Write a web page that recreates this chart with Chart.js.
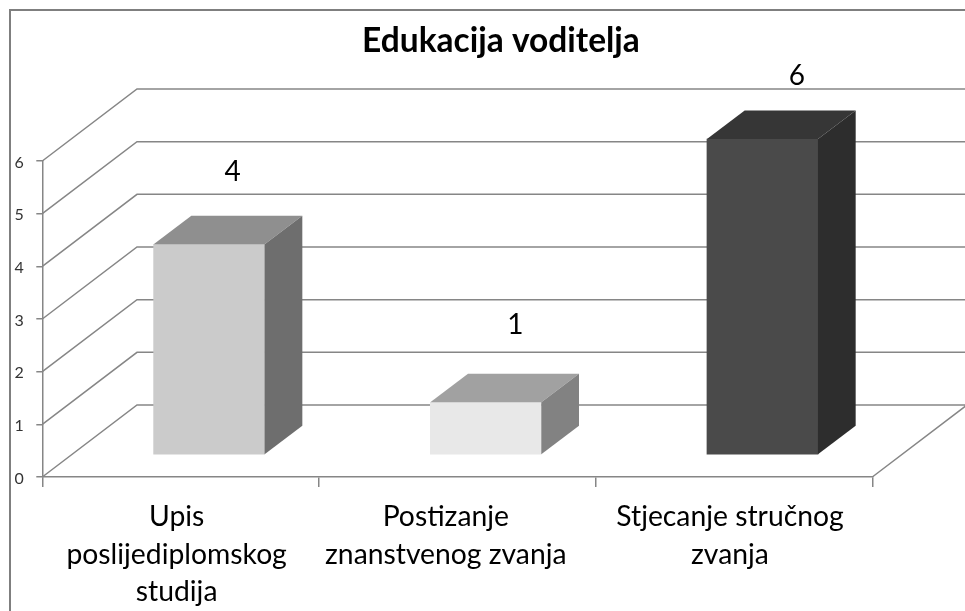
<!DOCTYPE html>
<html>
<head>
<meta charset="utf-8">
<style>html,body{margin:0;padding:0;background:#fff}canvas{display:block}</style>
<script src="https://cdn.jsdelivr.net/npm/chart.js@4"></script>
</head>
<body>
<canvas id="c" width="965" height="611"></canvas>
<script>
const chartTitle = "Edukacija voditelja";
const categories = [["Upis","poslijediplomskog","studija"],["Postizanje","znanstvenog zvanja"],["Stjecanje stručnog","zvanja"]];
const values = [4, 1, 6];
const frontColors = ["#cbcbcb", "#e8e8e8", "#4a4a4a"];
const topColors = ["#8f8f8f", "#a1a1a1", "#363636"];
const sideColors = ["#6e6e6e", "#828282", "#2d2d2d"];
const yTickValues = [0, 1, 2, 3, 4, 5, 6];
const axisColor = "#868686";
const FONT = "Lato, 'Open Sans', sans-serif";
const wall = {dx: 94.7, dy: -72};
const barDepth = {dx: 37.7, dy: -28.6};
const barShift = {dx: 28.5, dy: -22};
const xLabelShift = [-4, -11.5, -4];
const valueLabelShift = [[23.5, -72], [29.5, -77], [34.5, -63]];
const titleCenterX = 501;

const threeD = {
  id: "threeD",
  afterLayout(chart) {
    const tb = chart.titleBlock;
    tb.left = 2 * titleCenterX - tb.right;
  },
  beforeDraw(chart) {
    const ctx = chart.ctx, ca = chart.chartArea, ys = chart.scales.y;
    ctx.save();
    // outer frame
    ctx.strokeStyle = "#7f7f7f"; ctx.lineWidth = 2;
    ctx.beginPath(); ctx.moveTo(10, 611); ctx.lineTo(10, 10); ctx.lineTo(965, 10); ctx.stroke();
    // walls
    ctx.strokeStyle = axisColor; ctx.lineWidth = 1.5;
    ctx.beginPath();
    yTickValues.forEach(v => {
      const y = ys.getPixelForValue(v);
      ctx.moveTo(ca.left, y);
      ctx.lineTo(ca.left + wall.dx, y + wall.dy);
      ctx.lineTo(ca.right + wall.dx, y + wall.dy);
    });
    ctx.moveTo(ca.right, ca.bottom);
    ctx.lineTo(ca.right + wall.dx, ca.bottom + wall.dy);
    ctx.stroke();
    ctx.restore();
    // per-category horizontal label placement
    const items = chart.scales.x.getLabelItems();
    if (!items._shifted) {
      items.forEach((it, i) => { it.options.translation[0] += xLabelShift[i]; });
      items._shifted = true;
    }
  },
  beforeDatasetsDraw(chart) {
    chart.ctx.save();
    chart.ctx.translate(barShift.dx, barShift.dy);
  },
  afterDatasetsDraw(chart) {
    const ctx = chart.ctx, meta = chart.getDatasetMeta(0);
    meta.data.forEach((el, i) => {
      const l = el.x - el.width / 2, r = el.x + el.width / 2, t = el.y, b = el.base;
      ctx.fillStyle = topColors[i];
      ctx.beginPath();
      ctx.moveTo(l, t); ctx.lineTo(l + barDepth.dx, t + barDepth.dy);
      ctx.lineTo(r + barDepth.dx, t + barDepth.dy); ctx.lineTo(r, t);
      ctx.closePath(); ctx.fill();
      ctx.fillStyle = sideColors[i];
      ctx.beginPath();
      ctx.moveTo(r, t); ctx.lineTo(r + barDepth.dx, t + barDepth.dy);
      ctx.lineTo(r + barDepth.dx, b + barDepth.dy); ctx.lineTo(r, b);
      ctx.closePath(); ctx.fill();
    });
    ctx.restore();
    ctx.save();
    ctx.fillStyle = "#000";
    ctx.font = "28px " + FONT;
    ctx.textAlign = "center"; ctx.textBaseline = "middle";
    meta.data.forEach((el, i) => {
      ctx.fillText(String(values[i]),
        el.x + barShift.dx + valueLabelShift[i][0],
        el.y + barShift.dy + valueLabelShift[i][1]);
    });
    ctx.restore();
  }
};

new Chart(document.getElementById("c"), {
  type: "bar",
  data: {
    labels: categories,
    datasets: [{
      data: values,
      backgroundColor: frontColors,
      barThickness: 111,
      clip: false,
      borderWidth: 0
    }]
  },
  options: {
    responsive: false,
    animation: false,
    layout: {padding: {left: 0, right: 92.7, top: 0, bottom: 0}},
    plugins: {
      legend: {display: false},
      tooltip: {enabled: false},
      title: {
        display: true,
        text: chartTitle,
        color: "#000",
        font: {family: FONT, size: 33.5, weight: "bold", lineHeight: 1.2},
        padding: {top: 21, bottom: 99.8}
      }
    },
    scales: {
      x: {
        grid: {drawOnChartArea: false, drawTicks: true, tickLength: 10, color: axisColor, lineWidth: 1.5},
        border: {color: axisColor, width: 1.5},
        ticks: {color: "#000", font: {family: FONT, size: 28.3, lineHeight: 1.33}, padding: 11, maxRotation: 0, minRotation: 0, autoSkip: false},
        afterFit(s) { s.height = 134; }
      },
      y: {
        min: 0, max: 6,
        grid: {drawOnChartArea: false, drawTicks: true, tickLength: 6, color: axisColor, lineWidth: 1.5},
        border: {color: axisColor, width: 1.5},
        ticks: {stepSize: 1, color: "#333", font: {family: FONT, size: 16}, padding: 12.5, labelOffset: 1.5},
        afterFit(s) { s.width = 42.3; }
      }
    }
  },
  plugins: [threeD]
});
</script>
</body>
</html>
